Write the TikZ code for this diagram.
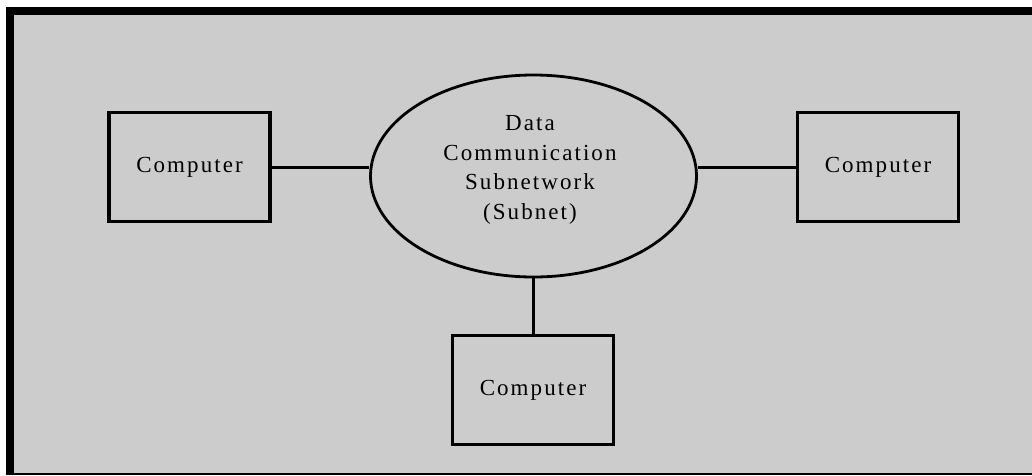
\documentclass[tikz,border=0pt]{standalone}
\usepackage{fontspec}
\setmainfont{Liberation Serif}[LetterSpace=9]
\usetikzlibrary{shapes.geometric}
\definecolor{panel}{RGB}{204,204,204}
\begin{document}
\begin{tikzpicture}[x=1pt,y=-1pt,
  labelfont/.style={font=\fontsize{23}{29.5}\selectfont, text=black},
  computer/.style={draw=black, line width=3.5pt, minimum width=161pt,
    minimum height=109pt, inner sep=0pt, labelfont},
  subnet/.style={ellipse, draw=black, line width=2.8pt,
    minimum width=326pt, minimum height=202pt, inner sep=0pt},
  link/.style={draw=black, line width=3pt}]
\useasboundingbox (0,0) rectangle (1032,475);
% page and framed grey panel
\fill[white] (0,0) rectangle (1032,475);
\fill[panel] (14,15) rectangle (1032,473.3);
\fill[black] (6,7) rectangle (14,475);
\fill[black] (6,7) rectangle (1032,15);
\fill[black] (14,473.3) rectangle (1032,475);

% central subnet and the three hosts
\node[subnet] (net) at (533.5,176) {};
\node[labelfont, align=center] (netlabel) at (530,170)
  {Data\\Communication\\Subnetwork\\(Subnet)};
\node[computer] (left) at (189.5,167) {Computer};
\node[computer] (right) at (878,167) {Computer};
\node[computer] (bottom) at (533,390) {Computer};

% links
\draw[link] (left.east) -- (left.east -| net.west);
\draw[link] (right.west) -- (right.west -| net.east);
\draw[link] (bottom.north) -- (bottom.north |- net.south);
\end{tikzpicture}
\end{document}
